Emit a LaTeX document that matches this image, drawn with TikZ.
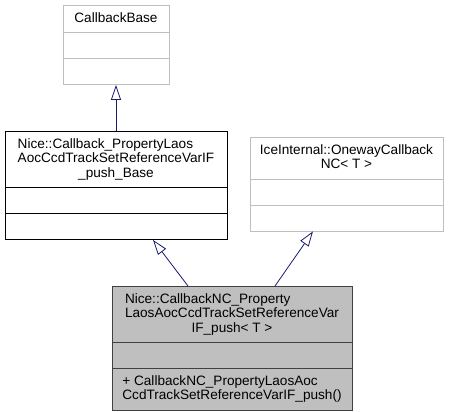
\documentclass[tikz,border=0pt]{standalone}
\usepackage{fontspec}
\setmainfont{Liberation Sans}
\usetikzlibrary{shapes.multipart,arrows.meta}
\definecolor{edgeblue}{HTML}{191970}
\definecolor{lightgrey}{HTML}{BFBFBF}
\definecolor{darkgrey}{HTML}{404040}
\newcommand{\lines}[1]{\begin{tabular}{@{}l@{}}#1\end{tabular}}
\newcommand{\clines}[1]{\begin{tabular}{@{}c@{}}#1\end{tabular}}
\newcommand{\midline}[1]{\multicolumn{1}{@{}c@{}}{#1}}

\begin{document}
\begin{tikzpicture}[x=1pt,y=-1pt,line width=0.8pt,
  classbox/.style={rectangle split, rectangle split parts=3, draw, anchor=north,
    font=\fontsize{13.6}{14.5}\selectfont, inner xsep=4pt, inner ysep=6.1pt,
    rectangle split empty part height=12.8pt},
  greybox/.style={classbox, draw=lightgrey},
  inherit/.style={draw=edgeblue, -{Triangle[open, length=15pt, width=10pt]}}]
\useasboundingbox (0,0) rectangle (451,412);

\node[greybox, minimum width=106pt] (cbase) at (116,5) {\clines{CallbackBase}};
\node[classbox, minimum width=222pt] (pbase) at (116,131)
  {\lines{Nice::Callback\_PropertyLaos\\AocCcdTrackSetReferenceVarIF\\\midline{\_push\_Base}}};
\node[greybox, minimum width=193pt] (oneway) at (346.5,137)
  {\clines{IceInternal::OnewayCallback\\NC< T >}};
\node[classbox, fill=lightgrey, draw=darkgrey, minimum width=240pt] (cbnc) at (232,286)
  {\lines{Nice::CallbackNC\_Property\\LaosAocCcdTrackSetReferenceVar\\\midline{IF\_push< T >}}
   \nodepart{three}\lines{+ CallbackNC\_PropertyLaosAoc\\CcdTrackSetReferenceVarIF\_push()}};

\draw[inherit] (pbase.north) -- (cbase.south);
\draw[inherit] ([xshift=-44pt]cbnc.north) -- ([xshift=37pt]pbase.south);
\draw[inherit] ([xshift=43pt]cbnc.north) -- ([xshift=-33.5pt]oneway.south);
%\draw[inherit] (cbnc.north) -- (oneway.south);

\end{tikzpicture}
\end{document}
